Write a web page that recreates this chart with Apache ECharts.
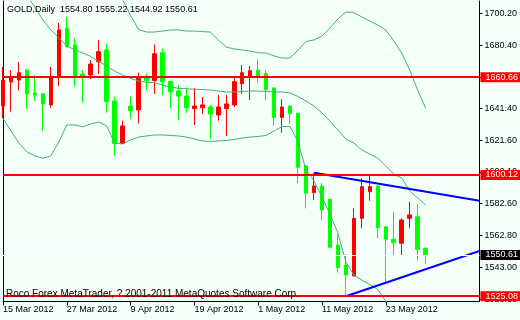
<!DOCTYPE html>
<html><head><meta charset="utf-8">
<script src="https://cdn.jsdelivr.net/npm/echarts@6/dist/echarts.min.js"></script>
<style>html,body{margin:0;padding:0;background:#F5FFFA;}#c{width:520px;height:320px;}</style>
</head><body><div id="c"></div>
<script>
const symbol = 'GOLD', period = 'Daily';
const footerText = 'Roco Forex MetaTrader, ? 2001-2011 MetaQuotes Software Corp.';
const dates = ['15 Mar 2012','16 Mar 2012','19 Mar 2012','20 Mar 2012','21 Mar 2012','22 Mar 2012','23 Mar 2012','26 Mar 2012',
 '27 Mar 2012','28 Mar 2012','29 Mar 2012','30 Mar 2012','2 Apr 2012','3 Apr 2012','4 Apr 2012','5 Apr 2012',
 '9 Apr 2012','10 Apr 2012','11 Apr 2012','12 Apr 2012','13 Apr 2012','16 Apr 2012','17 Apr 2012','18 Apr 2012',
 '19 Apr 2012','20 Apr 2012','23 Apr 2012','24 Apr 2012','25 Apr 2012','26 Apr 2012','27 Apr 2012','30 Apr 2012',
 '1 May 2012','2 May 2012','3 May 2012','4 May 2012','7 May 2012','8 May 2012','9 May 2012','10 May 2012',
 '11 May 2012','14 May 2012','15 May 2012','16 May 2012','17 May 2012','18 May 2012','21 May 2012','22 May 2012',
 '23 May 2012','24 May 2012','25 May 2012','28 May 2012','29 May 2012','30 May 2012'];
const openP  = [1642.8,1657.7,1658.9,1665.1,1650.9,1650.3,1643.5,1661.4,1690.9,1680.6,1662.6,1662.0,1670.2,1677.5,1645.9,1619.7,
 1642.8,1640.4,1660.3,1658.6,1675.8,1657.9,1652.1,1649.0,1641.2,1641.8,1642.2,1637.3,1641.2,1643.5,1656.6,1661.4,
 1665.1,1662.9,1654.0,1635.8,1642.8,1638.3,1605.7,1589.2,1593.3,1585.1,1556.8,1544.4,1537.6,1573.3,1589.8,1593.3,
 1568.1,1560.3,1557.9,1573.3,1574.3,1554.80];
const closeP = [1658.9,1660.3,1663.4,1650.3,1649.6,1644.2,1661.0,1689.9,1679.5,1661.4,1660.5,1668.8,1676.4,1645.5,1619.6,1630.5,
 1639.9,1660.3,1658.5,1675.2,1657.9,1651.7,1649.0,1641.9,1642.8,1643.5,1637.9,1642.2,1644.1,1657.9,1663.4,1664.7,
 1661.4,1653.0,1635.7,1642.2,1638.2,1604.9,1588.8,1593.3,1578.5,1555.4,1542.8,1538.2,1573.3,1592.9,1592.9,1567.5,
 1560.3,1558.2,1572.3,1575.4,1554.1,1550.61];
const lowP   = [1635.4,1639.3,1652.4,1641.0,1645.9,1627.5,1641.8,1655.2,1679.0,1654.8,1644.9,1659.5,1662.6,1638.7,1612.1,1619.3,
 1634.8,1632.1,1652.7,1650.4,1649.6,1641.4,1634.2,1638.5,1631.1,1637.9,1622.4,1633.7,1624.3,1642.2,1650.3,1646.5,
 1657.1,1646.2,1630.5,1626.3,1631.7,1595.0,1579.5,1584.7,1572.3,1554.9,1539.7,1525.1,1537.4,1567.1,1584.2,1561.0,
 1532.7,1550.6,1550.0,1567.1,1547.1,1544.92];
const highP  = [1667.0,1665.1,1670.1,1665.6,1662.0,1650.9,1667.0,1694.2,1698.1,1684.7,1665.1,1671.3,1683.7,1681.5,1648.6,1633.7,
 1648.7,1663.4,1662.9,1680.8,1678.5,1658.3,1655.8,1654.4,1653.8,1648.4,1643.5,1649.6,1649.6,1660.8,1668.2,1667.6,
 1671.7,1665.1,1654.3,1647.0,1643.0,1638.5,1606.3,1601.2,1595.0,1585.3,1563.6,1551.2,1579.5,1598.1,1600.1,1593.5,
 1568.3,1577.4,1573.3,1583.6,1582.2,1555.22];
const bbUpper = [1789,1786,1783,1780,1776,1772,1767,1762,1757,1751,1745,1739,1733,1726,1717.7,1708.4,
 1698.8,1690.2,1688.6,1688.6,1689.2,1689.9,1689.9,1689.2,1689.2,1688.9,1688.6,1683.7,1679.3,1678.1,1677.5,1676.8,
 1675.8,1675.6,1673.8,1672.5,1672.5,1677.5,1682.7,1683.7,1686.1,1691.1,1696.7,1701.0,1700.7,1697.9,1695.4,1693.0,
 1689.9,1683.1,1675.6,1665.1,1652.7,1641.6];
const bbMiddle = [1730.1,1723.3,1717.1,1710.9,1704.1,1696.1,1689.9,1684.9,1680.0,1677.6,1675.6,1673.5,1670.4,1667.6,1664.5,1662.0,
 1659.9,1658.3,1657.5,1657.3,1655.8,1654.6,1653.8,1653.5,1653.2,1653.0,1652.7,1652.1,1651.5,1651.5,1651.8,1652.1,
 1652.1,1651.8,1651.5,1651.5,1650.9,1648.7,1645.9,1642.8,1638.5,1633.5,1628.0,1622.4,1619.9,1615.6,1613.1,1610.6,
 1605.7,1600.7,1598.3,1590.2,1585.9,1581.6];
const bbLower = [1635.1,1627.4,1619.9,1614.4,1611.9,1610.5,1611.9,1620.6,1631.1,1631.1,1630.0,1631.7,1632.9,1630.5,1619.9,1619.3,
 1621.8,1623.6,1624.3,1624.9,1624.9,1624.6,1624.3,1623.6,1622.4,1621.2,1620.9,1621.2,1621.5,1622.1,1623.0,1623.6,
 1624.0,1624.6,1627.4,1630.1,1630.1,1620.6,1603.2,1596.4,1586.5,1576.0,1564.2,1546.3,1538.2,1535.1,1532.4,1529.3,
 1522.1,1517.0,1514.0,1512.0,1514.0,1516.0];
const priceTicks = [1700.20,1680.40,1660.90,1641.40,1621.60,1602.10,1582.60,1562.80,1543.00,1523.30];
const levelLines = [1660.66,1600.12,1525.08];
const bidPrice = 1550.61;
const trendUpper = [[39,1601.5],[59.75,1584.2]];
const trendLower = [[43,1525.1],[59.75,1553.1]];
const dateTickIdx = [0,8,16,24,32,40,48];

const FONT = 'Liberation Sans';
const chart = echarts.init(document.getElementById('c'), null, {renderer:'canvas'});
const headerText = symbol + ',' + period + '  ' + [openP[53], highP[53], lowP[53], closeP[53]].map(v=>v.toFixed(2)).join(' ');

const candleData = dates.map((d,i)=>[i, openP[i], closeP[i], lowP[i], highP[i]]);
const bandLine = (arr)=>({type:'line', data: arr.map((v,i)=>[i,v]), symbol:'none', silent:true, clip:true,
  lineStyle:{color:'#3CB371', width:1}, z:3});

chart.setOption({
  animation:false,
  backgroundColor:'#F5FFFA',
  title:[
    {text: headerText, left:7, top:5, padding:0, textStyle:{fontFamily:FONT, fontSize:9, fontWeight:'normal', color:'#000'}},
    {text: footerText, left:6, top:289, padding:0, z:20, textStyle:{fontFamily:FONT, fontSize:10, fontWeight:'normal', color:'#000'}}
  ],
  grid:{left:3, right:39, top:1, bottom:18.5, show:false},
  xAxis:{type:'value', min:0, max:59.75, position:'bottom',
    axisLine:{show:true, onZero:false, lineStyle:{color:'#000', width:1}},
    axisTick:{show:true, customValues:dateTickIdx, length:4, lineStyle:{color:'#000'}},
    axisLabel:{customValues:dateTickIdx, formatter:(v)=>dates[Math.round(v)]||'', align:'left', margin:4,
      color:'#000', fontFamily:FONT, fontSize:9},
    splitLine:{show:false}},
  yAxis:[
    {type:'value', position:'right', min:1521.83, max:1707.81,
      axisLine:{show:true, onZero:false, lineStyle:{color:'#000', width:1}},
      axisTick:{show:true, customValues:priceTicks, length:3, lineStyle:{color:'#000'}},
      axisLabel:{customValues:priceTicks, formatter:(v)=>v.toFixed(2), margin:5, color:'#000', fontFamily:FONT, fontSize:9},
      splitLine:{show:false}},
    {type:'value', position:'left', min:1521.83, max:1707.81,
      axisLine:{show:true, onZero:false, lineStyle:{color:'#000', width:1}},
      axisTick:{show:false}, axisLabel:{show:false}, splitLine:{show:false}}
  ],
  series:[
    {type:'candlestick', data:candleData, encode:{x:0, y:[1,2,3,4]}, barWidth:4, clip:true, z:2,
      itemStyle:{color:'#FF0000', color0:'#00FF00', borderColor:'#FF0000', borderColor0:'#00FF00', borderWidth:1}},
    bandLine(bbUpper), bandLine(bbMiddle), bandLine(bbLower),
    {type:'line', data:trendUpper, symbol:'none', clip:true, z:5, lineStyle:{color:'#0000FF', width:2}},
    {type:'line', data:trendLower, symbol:'none', clip:true, z:5, lineStyle:{color:'#0000FF', width:2},
      markLine:{silent:true, symbol:'none', z:6, animation:false,
        data:[
          {yAxis:bidPrice, lineStyle:{color:'#FFFFFF', width:1, type:'solid'},
            label:{show:true, position:'end', distance:1, formatter:bidPrice.toFixed(2), backgroundColor:'#000', color:'#fff',
              padding:[1,4,0,5], fontFamily:FONT, fontSize:9, lineHeight:9}},
          ...levelLines.map(v=>({yAxis:v, lineStyle:{color:'#FF0000', width:2, type:'solid'},
            label:{show:true, position:'end', distance:1, formatter:v.toFixed(2), backgroundColor:'#FF0000', color:'#fff',
              padding:[1,4,0,5], fontFamily:FONT, fontSize:9, lineHeight:9}}))
        ]}}
  ]
});
</script></body></html>
